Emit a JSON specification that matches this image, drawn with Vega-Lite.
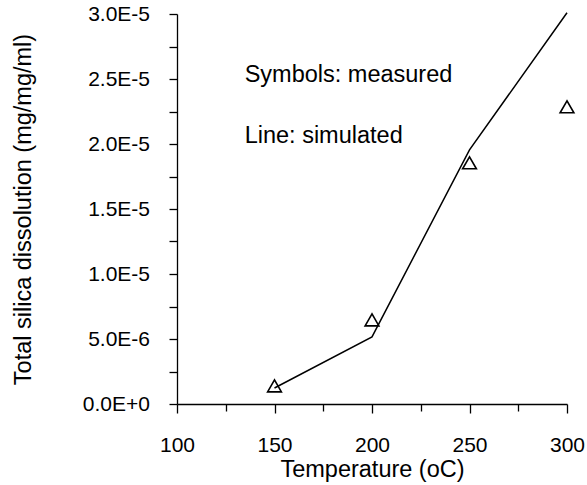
{
  "$schema": "https://vega.github.io/schema/vega-lite/v6.json",
  "width": 390,
  "height": 390,
  "autosize": "none",
  "padding": {"left": 177, "top": 14, "right": 20, "bottom": 81},
  "config": {
    "view": {"stroke": null},
    "font": "Liberation Sans",
    "axis": {
      "grid": false,
      "domainColor": "black",
      "domainWidth": 1.3,
      "tickColor": "black",
      "tickWidth": 1.3,
      "labelColor": "black",
      "titleColor": "black",
      "labelFont": "Liberation Sans",
      "titleFont": "Liberation Sans",
      "labelFontWeight": "normal",
      "titleFontWeight": "normal",
      "labelFontSize": 21,
      "titleFontSize": 23.5
    }
  },
  "datasets": {
    "simulated": [
      {"t": 150, "v": 1.23e-6},
      {"t": 200, "v": 5.16e-6},
      {"t": 250, "v": 1.955e-5},
      {"t": 300, "v": 3.01e-5}
    ],
    "measured": [
      {"t": 150, "v": 1.39e-6},
      {"t": 200, "v": 6.47e-6},
      {"t": 250, "v": 1.855e-5},
      {"t": 300, "v": 2.286e-5}
    ],
    "notes": [
      {"t": 134.7, "v": 2.48e-5, "label": "Symbols: measured"},
      {"t": 134.7, "v": 2.01e-5, "label": "Line: simulated"}
    ]
  },
  "encoding": {
    "x": {
      "field": "t",
      "type": "quantitative",
      "scale": {"domain": [100, 300], "nice": false, "zero": false},
      "axis": {
        "title": "Temperature (oC)",
        "values": [100, 125, 150, 175, 200, 225, 250, 275, 300],
        "labelExpr": "datum.value % 50 === 0 ? datum.label : ''",
        "tickSize": {"condition": {"test": "datum.value % 50 === 0", "value": 9}, "value": 7},
        "labelPadding": 21,
        "titlePadding": 2,
        "labelFlush": false,
        "labelOverlap": false
      }
    },
    "y": {
      "field": "v",
      "type": "quantitative",
      "scale": {"domain": [0, 3e-5], "nice": false, "zero": true},
      "axis": {
        "title": "Total silica dissolution (mg/mg/ml)",
        "values": [0, 2.5e-6, 5e-6, 7.5e-6, 1e-5, 1.25e-5, 1.5e-5, 1.75e-5, 2e-5, 2.25e-5, 2.5e-5, 2.75e-5, 3e-5],
        "labelExpr": "['0.0E+0','','5.0E-6','','1.0E-5','','1.5E-5','','2.0E-5','','2.5E-5','','3.0E-5'][round(datum.value/2.5e-6)]",
        "tickSize": 8,
        "labelPadding": 19.5,
        "titlePadding": 47,
        "labelFlush": false,
        "labelOverlap": false
      }
    }
  },
  "layer": [
    {
      "data": {"name": "simulated"},
      "mark": {"type": "line", "color": "black", "strokeWidth": 1.5, "clip": false}
    },
    {
      "data": {"name": "measured"},
      "mark": {"type": "point", "shape": "triangle-up", "size": 190, "filled": false, "stroke": "black", "strokeWidth": 1.6, "opacity": 1}
    },
    {
      "data": {"name": "notes"},
      "mark": {"type": "text", "align": "left", "baseline": "alphabetic", "fontSize": 23.5, "font": "Liberation Sans", "color": "black"},
      "encoding": {"text": {"field": "label"}}
    }
  ]
}
